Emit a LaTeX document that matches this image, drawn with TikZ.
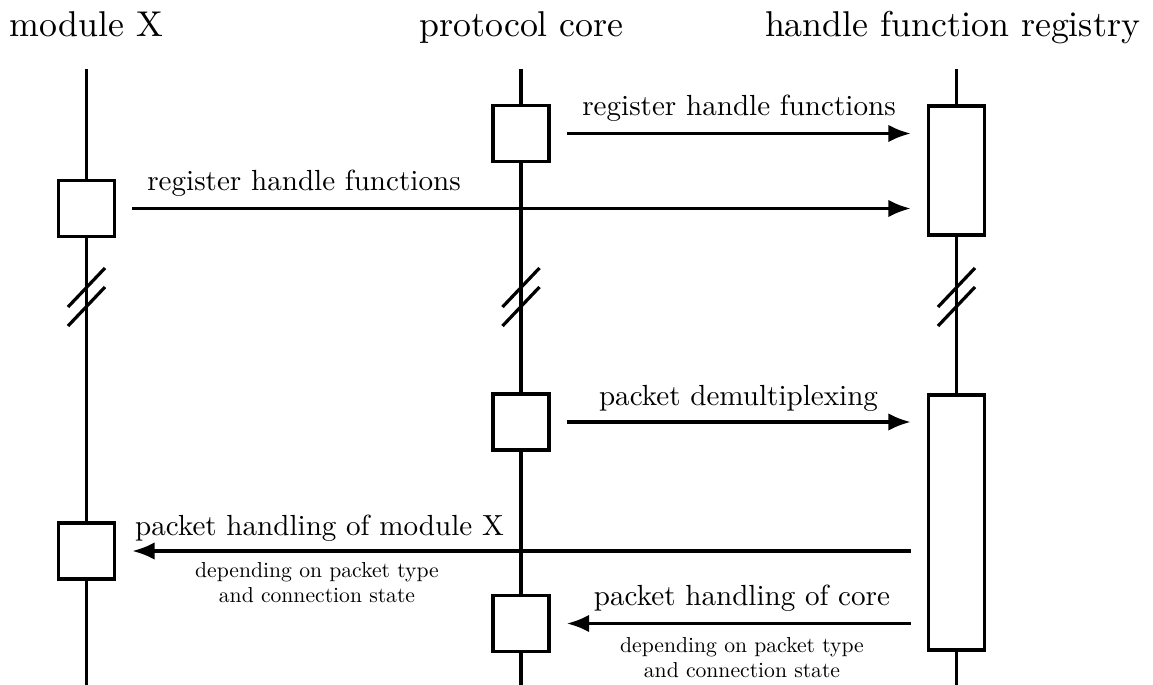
\documentclass[tikz,border=0pt]{standalone}
\usepackage{fontspec}
\setmainfont{lmroman10-regular}[Extension=.otf]
\usetikzlibrary{arrows.meta}
\begin{document}
\begin{tikzpicture}[x=0.025cm, y=-0.025cm,
  life/.style={line width=2.3pt},
  brk/.style={line width=2.3pt},
  act/.style={draw, line width=2.4pt, fill=white, inner sep=0pt, minimum width=1.4cm},
  sq/.style={act, minimum height=1.4cm},
  msg/.style={line width=2.4pt, -{Latex[length=16pt,width=12.5pt]}, shorten <=0.4cm, shorten >=0.4cm},
  hdr/.style={font=\fontsize{25.5}{30}\selectfont, anchor=base, inner sep=0pt},
  lab/.style={font=\fontsize{20.7}{25}\selectfont, anchor=base, inner sep=0pt},
  sml/.style={font=\fontsize{15.4}{18}\selectfont, anchor=base, inner sep=0pt}]
\useasboundingbox (0,0) rectangle (1153,685);
% headers
\node[hdr] (hm) at (86.5,36) {module X};
\node[hdr] (hc) at (521.5,36) {protocol core};
\node[hdr] (hr) at (952.5,36) {handle function registry};
% lifelines
\coordinate (mt) at (86.5,69);  \coordinate (mb) at (86.5,685);
\coordinate (ct) at (521,69);   \coordinate (cb) at (521,685);
\coordinate (rt) at (956.5,69); \coordinate (rb) at (956.5,685);
\draw[life] (mt) -- (mb);
\draw[life] (ct) -- (cb);
\draw[life] (rt) -- (rb);
% break marks
\foreach \x in {86.5,521,956.5} {
  \draw[brk] (\x+18.5,268) -- (\x-18.5,307);
  \draw[brk] (\x+18.5,287) -- (\x-18.5,326);
}
% activation boxes
\node[sq] (c1) at (521,133.5) {};
\node[sq] (m1) at (86.5,208.5) {};
\node[act, minimum height=3.225cm] (r1) at (956.5,170.5) {};
\node[sq] (c2) at (521,422) {};
\node[act, minimum height=6.375cm] (r2) at (956.5,522.5) {};
\node[sq] (m2) at (86.5,551) {};
\node[sq] (c3) at (521,623.5) {};
% messages
\draw[msg] (c1.east) -- (c1.east -| r1.west);
\node[lab] (l1) at (739,115) {register handle functions};
\draw[msg] (m1.east) -- (m1.east -| r1.west);
\node[lab] (l2) at (304,190) {register handle functions};
\draw[msg] (c2.east) -- (c2.east -| r2.west);
\node[lab] (l3) at (738.5,405) {packet demultiplexing};
\draw[msg] (m2.east -| r2.west) -- (m2.east);
\node[lab] (l4) at (319.5,535) {packet handling of module X};
\node[sml] (l4a) at (317,577) {depending on packet type};
\node[sml] (l4b) at (317,602) {and connection state};
\draw[msg] (c3.east -| r2.west) -- (c3.east);
\node[lab] (l5) at (742,605) {packet handling of core};
\node[sml] (l5a) at (742,652) {depending on packet type};
\node[sml] (l5b) at (742,677) {and connection state};
\end{tikzpicture}
\end{document}
